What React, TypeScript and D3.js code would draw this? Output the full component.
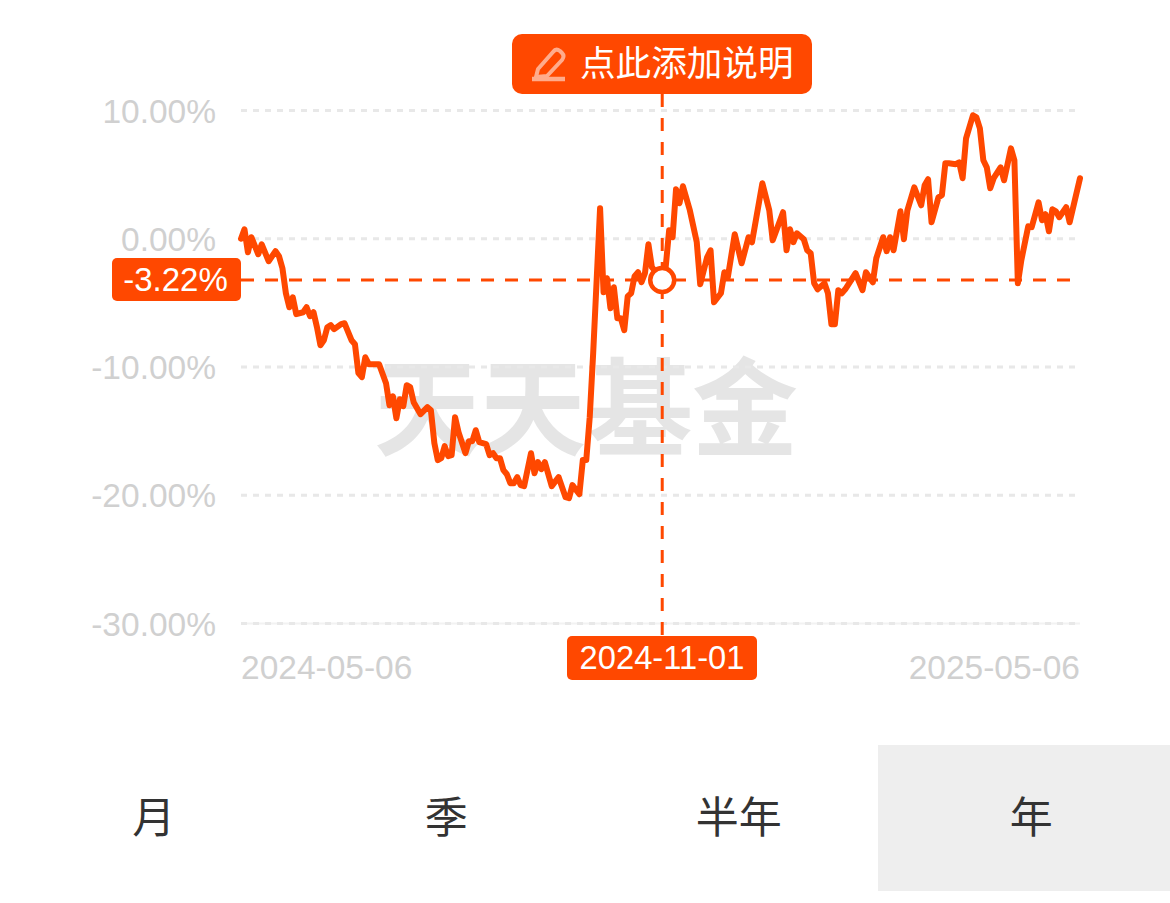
import React from "react";
import * as d3 from "d3";

const tradingDays = [0,1,2,3,5,6,8,10,11,12,13,14,15,16,18,19,20,21,22,23,24,25,26,27,29,30,32,33,34,35,36,37,40,42,43,44,45,46,47,48,49,50,52,54,55,56,57,58,59,60,61,62,63,65,66,67,68,69,71,72,73,74,75,76,77,78,79,80,81,82,84,85,86,87,88,90,92,94,95,96,98,99,100,101,102,104,105,106,107,108,109,110,111,112,113,114,115,116,117,118,119,122,123,124,125,126,127,128,130,132,133,135,136,137,139,140,141,143,145,147,148,151,153,154,157,158,159,160,161,163,164,165,166,167,169,170,171,172,173,174,175,178,180,181,183,184,186,187,188,189,191,192,193,195,197,198,199,200,202,203,204,205,207,208,209,210,212,213,214,215,216,217,218,220,221,223,224,225,226,228,229,231,232,233,234,235,236,237,239,240,243];
const returns = [0,0.74,-1.05,0.12,-1.21,-0.43,-1.75,-0.97,-1.36,-2.3,-4.25,-5.34,-4.56,-5.88,-5.73,-5.34,-6.04,-5.73,-6.9,-8.3,-7.91,-6.9,-6.74,-7.05,-6.66,-6.59,-7.91,-8.22,-10.48,-10.79,-9.24,-9.78,-9.78,-11.26,-12.98,-12.28,-13.99,-12.51,-13.06,-11.42,-11.57,-12.74,-13.68,-13.13,-13.37,-15.94,-17.26,-17.11,-16.17,-16.95,-16.87,-13.91,-15.08,-16.72,-15.78,-15.78,-14.93,-15.86,-16.02,-16.87,-16.72,-17.11,-17.11,-18.04,-18.36,-19.06,-19.06,-18.59,-19.21,-19.29,-16.72,-18.28,-17.42,-17.97,-17.42,-19.29,-18.59,-20.15,-20.23,-19.21,-19.92,-17.26,-17.26,-13.91,-8.92,2.38,-4.17,-3.08,-5.42,-3.78,-6.2,-6.2,-7.13,-4.48,-4.25,-2.92,-2.61,-3.39,-2.69,-0.43,-2.22,-3.22,-2.22,0.66,0.12,3.86,2.77,4.09,2.22,-0.27,-3.55,-1.44,-0.9,-4.95,-4.25,-2.61,-3.0,0.35,-1.91,0.12,-0.27,4.33,2.22,-0.12,2.07,-0.9,0.74,-0.27,0.43,-0.04,-0.9,-1.13,-3.47,-3.94,-3.47,-4.25,-6.66,-6.66,-4.01,-4.25,-3.94,-2.69,-4.01,-2.61,-3.39,-1.52,0.12,-0.97,0.12,-0.9,2.14,-0.04,2.22,4.01,2.61,4.17,4.64,1.29,3.23,3.39,5.88,5.88,5.81,5.96,4.72,7.83,9.63,9.47,8.61,6.12,5.57,3.94,4.72,5.57,4.56,7.05,6.12,-3.47,-1.68,0.97,0.9,2.84,1.44,1.91,0.58,2.3,2.14,1.68,2.46,1.29,4.72];
const yTicks = [10, 0, -10, -20, -30];
const yTickLabels = ["10.00%", "0.00%", "-10.00%", "-20.00%", "-30.00%"];
const startDate = "2024-05-06";
const endDate = "2025-05-06";
const selectedDay = 122;
const selectedDate = "2024-11-01";
const selectedValue = -3.22;
const selectedLabel = "-3.22%";
const noteText = "点此添加说明";
const watermark = ["天", "天", "基", "金"];
const tabs = ["月", "季", "半年", "年"];

const ORANGE = "#ff4800";
const SANS = "'Liberation Sans', Arial, sans-serif";
const CJK = "'Noto Sans CJK SC', sans-serif";

export default function App() {
  const x = d3.scaleLinear().domain([0, 243]).range([241, 1080]);
  const y = d3.scaleLinear().domain([10, -30]).range([110.5, 623.5]);
  const line = d3.line<number>().x((_, i) => x(tradingDays[i])).y((d) => y(d)).curve(d3.curveLinear);
  const sx = x(selectedDay);
  const sy = y(selectedValue);
  const tabWidth = 292.5;
  const markCentres = [427, 533, 640, 745];
  return (
    <svg width={1170} height={903} style={{ position: "absolute", left: 0, top: 0, display: "block", background: "#fff" }}>
      {watermark.map((c, i) => (
        <text key={i} x={markCentres[i]} y={447} textAnchor="middle" fontSize={106} fontWeight={700} fill="#e5e5e5" fontFamily="'Noto Sans CJK SC', serif">{c}</text>
      ))}
      <line x1={241} x2={1080} y1={y(-30)} y2={y(-30)} stroke="#f2f2f2" strokeWidth={2} />
      {yTicks.map((t, i) => (
        <g key={t}>
          <line x1={241} x2={t === -30 ? 1080 : 1076} y1={y(t)} y2={y(t)} stroke="#e8e8e8" strokeWidth={3} strokeDasharray="6 6" />
          <text x={216} y={y(t) + 12} textAnchor="end" fontSize={33.5} fill="#d0d0d0" fontFamily={SANS}>{yTickLabels[i]}</text>
        </g>
      ))}
      <text x={241} y={679} fontSize={33.5} fill="#d0d0d0" fontFamily={SANS}>{startDate}</text>
      <text x={1080} y={679} textAnchor="end" fontSize={33.5} fill="#d0d0d0" fontFamily={SANS}>{endDate}</text>

      <line x1={241} x2={1072} y1={sy} y2={sy} stroke={ORANGE} strokeWidth={3} strokeDasharray="13 11" />
      <line x1={sx} x2={sx} y1={94} y2={636} stroke={ORANGE} strokeWidth={3} strokeDasharray="13 11" />

      <path d={line(returns) ?? ""} fill="none" stroke={ORANGE} strokeWidth={6} strokeLinejoin="round" strokeLinecap="round" />
      <circle cx={sx} cy={sy} r={12} fill="#fff" stroke={ORANGE} strokeWidth={4.5} />

      <rect x={512} y={34} width={300} height={60} rx={10} fill={ORANGE} />
      <g fill="none" stroke="#ffab8c" strokeWidth={4}>
        <path d="M538 69 L553 52 Q556 48 560 51 L562 53 Q565 56 562 60 L547 76 L536 77 Z" strokeLinejoin="round" />
        <path d="M532 79 L565 79" strokeWidth={4.5} />
      </g>
      <text x={580} y={76} fontSize={35.6} fill="#fff" fontFamily={CJK}>{noteText}</text>

      <rect x={112} y={258} width={129} height={43} rx={5} fill={ORANGE} />
      <text x={175.5} y={291} textAnchor="middle" fontSize={33} fill="#fff" fontFamily={SANS}>{selectedLabel}</text>

      <rect x={567} y={636} width={190} height={44} rx={5} fill={ORANGE} />
      <text x={662} y={669} textAnchor="middle" fontSize={32.7} fill="#fff" fontFamily={SANS}>{selectedDate}</text>

      <rect x={878} y={745} width={292} height={146} fill="#eeeeee" />
      {tabs.map((t, i) => (
        <text key={t} x={tabWidth * (i + 0.5) + 7.5} y={833} textAnchor="middle" fontSize={43} fill="#333" fontFamily={CJK}>{t}</text>
      ))}
    </svg>
  );
}
